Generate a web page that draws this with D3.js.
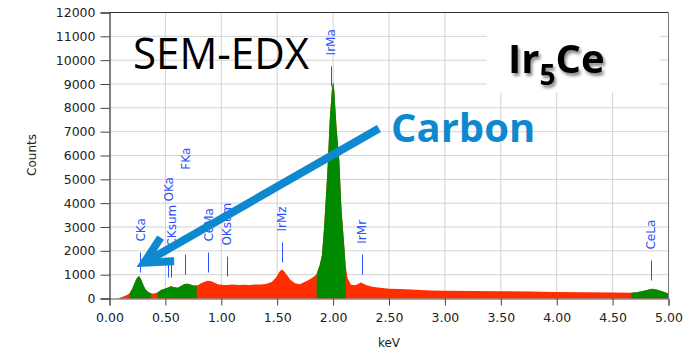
<!DOCTYPE html>
<html>
<head>
<meta charset="utf-8">
<script src="https://cdn.jsdelivr.net/npm/d3@7/dist/d3.min.js"></script>
<style>
  body { margin: 0; background: #fff; }
  svg { display: block; }
</style>
</head>
<body>
<svg class="chart"></svg>
<script>
/******** Data ********/
// spectrum: energy in keV, counts
var energy = [0.00, 0.05, 0.08, 0.10, 0.13, 0.16, 0.18, 0.20, 0.22, 0.24, 0.255, 0.265, 0.28, 0.30, 0.32, 0.34, 0.36,
  0.38, 0.40, 0.43, 0.46, 0.50, 0.53, 0.55, 0.58, 0.61, 0.64, 0.67, 0.70, 0.73, 0.76, 0.79, 0.82, 0.85, 0.88,
  0.91, 0.94, 0.97, 1.00, 1.05, 1.10, 1.15, 1.20, 1.25, 1.30, 1.35, 1.40, 1.45, 1.49, 1.52, 1.54, 1.56, 1.59,
  1.62, 1.66, 1.70, 1.75, 1.80, 1.85, 1.88, 1.90, 1.92, 1.95, 1.97, 1.99, 2.00, 2.01, 2.03, 2.055, 2.075, 2.10,
  2.113, 2.13, 2.16, 2.20, 2.25, 2.30, 2.35, 2.42, 2.50, 2.60, 2.70, 2.87, 3.00, 3.25, 3.50, 3.75, 4.00, 4.25,
  4.50, 4.65, 4.70, 4.75, 4.80, 4.85, 4.90, 4.95, 5.00];
var counts = [0, 5, 15, 40, 90, 160, 220, 380, 600, 820, 910, 930, 830, 600, 400, 290, 240,
  215, 205, 250, 360, 420, 470, 515, 470, 450, 520, 610, 620, 580, 540, 560, 640, 700, 750,
  720, 660, 600, 580, 570, 585, 565, 575, 570, 585, 590, 610, 690, 880, 1120, 1215, 1150, 960,
  780, 640, 600, 700, 830, 1000, 1400, 1800, 3030, 5410, 7500, 8800, 9080, 8750, 7230, 5830, 3730, 2200,
  1355, 850, 580, 560, 670, 560, 490, 450, 410, 400, 380, 340, 330, 315, 305, 290, 270, 260,
  250, 240, 250, 290, 350, 405, 370, 290, 200];

// ROI bands drawn in green (keV)
var roiStart = [0.18, 0.43, 1.853, 4.668];
var roiEnd = [0.37, 0.78, 2.113, 5.0];

// peak markers
var peakNames = ["CKa", "OKa", "CKsum", "FKa", "CeMa", "OKsum", "IrMz", "IrMa", "IrMr", "CeLa"];
var peakKeV = [0.277, 0.525, 0.554, 0.677, 0.883, 1.05, 1.54, 1.98, 2.255, 4.84];
var peakLevel = [1090, 880, 880, 1000, 1090, 920, 1510, 8900, 1000, 755];
var labelLift = [0, 45, 0, 74, 0, 0, 0, 0, 0, 0]; // push some labels up so they don't overlap

// axes
var xTicks = [0, 0.5, 1, 1.5, 2, 2.5, 3, 3.5, 4, 4.5, 5];
var yTicks = [0, 1000, 2000, 3000, 4000, 5000, 6000, 7000, 8000, 9000, 10000, 11000, 12000];

/******** Sizes ********/
var chartWidth = 696;
var chartHeight = 355;
var plotLeft = 109.5, plotRight = 668.5, plotTop = 12.5, plotBottom = 298.5;

var red = "#ff2d00";
var green = "#008a00";
var peakBlue = "#3050ff";
var noteBlue = "#0e88cf";

var data = energy.map((e, i) => ({ e: e, c: counts[i] }));

/******** Scales ********/
var x = d3.scaleLinear()
  .domain([0, 5])
  .range([plotLeft, plotRight]);

var y = d3.scaleLinear()
  .domain([0, 12000])
  .range([plotBottom, plotTop]);

var svg = d3.select(".chart")
  .attr("width", chartWidth)
  .attr("height", chartHeight);

var defs = svg.append("defs");

defs.append("clipPath")
  .attr("id", "roi")
  .selectAll("rect")
  .data(roiStart)
  .enter()
  .append("rect")
  .attr("x", (d) => x(d))
  .attr("y", plotTop)
  .attr("width", (d, i) => x(roiEnd[i]) - x(d))
  .attr("height", plotBottom - plotTop);

var shadow = defs.append("filter")
  .attr("id", "shadow")
  .attr("x", "-20%").attr("y", "-20%")
  .attr("width", "140%").attr("height", "140%");
shadow.append("feDropShadow")
  .attr("dx", 2)
  .attr("dy", 3)
  .attr("stdDeviation", 1.8)
  .attr("flood-color", "#000")
  .attr("flood-opacity", 0.45);

/******** Grid ********/
svg.append("g")
  .selectAll("line")
  .data(yTicks.slice(1))
  .enter()
  .append("line")
  .attr("x1", plotLeft).attr("x2", plotRight)
  .attr("y1", (d) => y(d)).attr("y2", (d) => y(d))
  .attr("stroke", "#d2d2d2");

svg.append("g")
  .selectAll("line")
  .data(xTicks.slice(1))
  .enter()
  .append("line")
  .attr("x1", (d) => x(d)).attr("x2", (d) => x(d))
  .attr("y1", plotTop).attr("y2", plotBottom)
  .attr("stroke", "#d2d2d2");

/******** Spectrum ********/
var area = d3.area()
  .x((d) => x(d.e))
  .y0(y(0))
  .y1((d) => y(d.c));

svg.append("path")
  .datum(data)
  .attr("d", area)
  .attr("fill", red);

svg.append("path")
  .datum(data)
  .attr("d", area)
  .attr("fill", green)
  .attr("clip-path", "url(#roi)");

// white box behind the compound name
svg.append("rect")
  .attr("x", 487)
  .attr("y", plotTop + 1)
  .attr("width", 173)
  .attr("height", 79)
  .attr("fill", "#fff");

/******** Axes ********/
var yAxis = d3.axisLeft(y)
  .tickValues(yTicks)
  .tickFormat(d3.format("d"))
  .tickSize(9)
  .tickPadding(5);

var xAxis = d3.axisBottom(x)
  .tickValues(xTicks)
  .tickFormat(d3.format(".2f"))
  .tickSize(7)
  .tickPadding(8);

var yAxisGroup = svg.append("g")
  .attr("transform", "translate(" + plotLeft + ",0)")
  .call(yAxis);

var xAxisGroup = svg.append("g")
  .attr("transform", "translate(0," + plotBottom + ")")
  .call(xAxis);

[yAxisGroup, xAxisGroup].forEach(function (g) {
  g.selectAll("text")
    .style("font-family", "'DejaVu Sans', sans-serif")
    .style("font-size", "12.5px")
    .attr("fill", "#222");
  g.selectAll(".tick line").attr("stroke", "#444");
});
yAxisGroup.select(".domain").attr("stroke", "#000");
xAxisGroup.select(".domain").attr("stroke", "#555");

// frame top and right
svg.append("line")
  .attr("x1", plotLeft).attr("x2", plotRight)
  .attr("y1", plotTop).attr("y2", plotTop)
  .attr("stroke", "#333");
svg.append("line")
  .attr("x1", plotRight).attr("x2", plotRight)
  .attr("y1", plotTop).attr("y2", plotBottom + 7)
  .attr("stroke", "#777");

svg.append("text")
  .text("Counts")
  .attr("transform", "translate(36,155) rotate(-90)")
  .style("text-anchor", "middle")
  .style("font-family", "'DejaVu Sans', sans-serif")
  .style("font-size", "12px")
  .attr("fill", "#222");

svg.append("text")
  .text("keV")
  .attr("x", (plotLeft + plotRight) / 2)
  .attr("y", 347)
  .style("text-anchor", "middle")
  .style("font-family", "'DejaVu Sans', sans-serif")
  .style("font-size", "12px")
  .attr("fill", "#222");

/******** Peak labels ********/
var marks = svg.append("g")
  .selectAll("g")
  .data(peakNames)
  .enter()
  .append("g");

marks.append("line")
  .attr("x1", (d, i) => Math.round(x(peakKeV[i])) + 0.5)
  .attr("x2", (d, i) => Math.round(x(peakKeV[i])) + 0.5)
  .attr("y1", (d, i) => y(peakLevel[i]))
  .attr("y2", (d, i) => y(peakLevel[i]) - 20)
  .attr("stroke", peakBlue);

marks.append("text")
  .text((d) => d)
  .attr("transform", (d, i) => "translate(" + x(peakKeV[i]) + "," + (y(peakLevel[i]) - 31 - labelLift[i]) + ") rotate(-90)")
  .attr("dy", "0.36em")
  .style("font-family", "'DejaVu Sans', sans-serif")
  .style("font-size", "12px")
  .attr("fill", peakBlue);

/******** Notes ********/
svg.append("text")
  .text("SEM-EDX")
  .attr("x", 133)
  .attr("y", 69)
  .attr("textLength", 176)
  .attr("lengthAdjust", "spacingAndGlyphs")
  .style("font-family", "'Open Sans', sans-serif")
  .style("font-size", "44px")
  .attr("fill", "#000");

var formula = svg.append("text")
  .attr("x", 508)
  .attr("y", 73)
  .attr("filter", "url(#shadow)")
  .style("font-family", "'Open Sans', sans-serif")
  .style("font-weight", "bold")
  .style("font-size", "40px")
  .attr("fill", "#000");
formula.append("tspan").text("Ir");
formula.append("tspan").text("5").attr("dy", 12).style("font-size", "28px");
formula.append("tspan").text("Ce").attr("dy", -12);

svg.append("text")
  .text("Carbon")
  .attr("x", 391)
  .attr("y", 142)
  .style("font-family", "'Open Sans', sans-serif")
  .style("font-weight", "bold")
  .style("font-size", "40px")
  .attr("fill", noteBlue);

// arrow from the note down to the carbon peak
var tail = [x(2.41), y(7130)];
var tip = [x(0.31), y(1500)];
var ang = Math.atan2(tail[1] - tip[1], tail[0] - tip[0]);
var arm = 30, spread = 27 * Math.PI / 180;

svg.append("line")
  .attr("x1", tail[0]).attr("y1", tail[1])
  .attr("x2", tip[0] + 3 * Math.cos(ang)).attr("y2", tip[1] + 3 * Math.sin(ang))
  .attr("stroke", noteBlue)
  .attr("stroke-width", 8);

svg.append("path")
  .attr("d", d3.line()([
    [tip[0] + arm * Math.cos(ang - spread), tip[1] + arm * Math.sin(ang - spread)],
    tip,
    [tip[0] + arm * Math.cos(ang + spread), tip[1] + arm * Math.sin(ang + spread)]
  ]))
  .attr("fill", "none")
  .attr("stroke", noteBlue)
  .attr("stroke-width", 8)
  .attr("stroke-linejoin", "miter");
</script>
</body>
</html>
